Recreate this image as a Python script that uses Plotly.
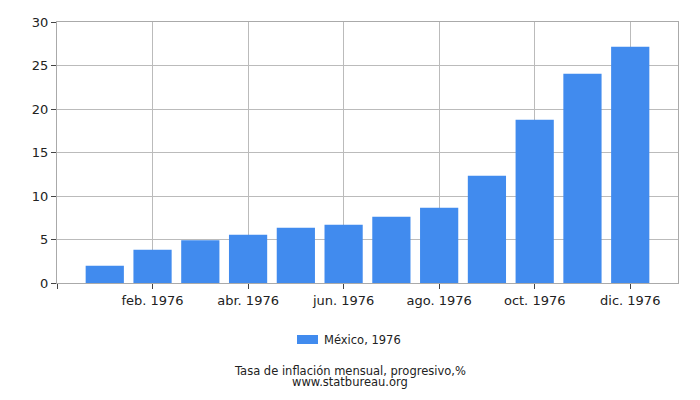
import plotly.graph_objects as go

months = ["ene. 1976", "feb. 1976", "mar. 1976", "abr. 1976", "may. 1976", "jun. 1976",
          "jul. 1976", "ago. 1976", "sep. 1976", "oct. 1976", "nov. 1976", "dic. 1976"]
values = [1.99, 3.83, 4.90, 5.56, 6.36, 6.70, 7.62, 8.66, 12.34, 18.77, 24.06, 27.16]
series_name = "México, 1976"
title_text = "Tasa de inflación mensual, progresivo,%"
source_text = "www.statbureau.org"
yticks = [0, 5, 10, 15, 20, 25, 30]

BAR_COLOR = "#418BEE"
W, H = 700, 400
ML, MR, MT, MB = 57, 22, 22, 117
plot_w = W - ML - MR
plot_h = H - MT - MB


def px_x(p):  # page pixel -> paper x
    return (p - ML) / plot_w


def px_y(p):  # page pixel -> paper y
    return (H - MB - p) / plot_h


idx = list(range(len(months)))
tick_idx = [-1] + [i for i in idx if i % 2 == 1]
tick_text = [""] + [months[i] for i in idx if i % 2 == 1]

fig = go.Figure()
fig.add_trace(go.Bar(
    x=idx, y=values, name=series_name,
    marker=dict(color=BAR_COLOR, line=dict(width=0)),
    width=0.8, showlegend=False,
))

font = "DejaVu Sans, Verdana, sans-serif"
fig.update_layout(
    width=W, height=H,
    margin=dict(l=ML, r=MR, t=MT, b=MB),
    paper_bgcolor="white", plot_bgcolor="white",
    font=dict(family=font, size=13, color="#222"),
    showlegend=False,
    xaxis=dict(
        range=[-1, 12], tickmode="array", tickvals=tick_idx, ticktext=tick_text,
        showgrid=True, gridcolor="#BBBBBB", gridwidth=1,
        showline=True, linecolor="#AAAAAA", linewidth=1, mirror=True,
        ticks="outside", ticklen=5, tickcolor="#444", zeroline=False,
    ),
    yaxis=dict(
        range=[0, 30], tickmode="array", tickvals=yticks,
        showgrid=True, gridcolor="#BBBBBB", gridwidth=1,
        showline=True, linecolor="#AAAAAA", linewidth=1, mirror=True,
        ticks="outside", ticklen=5, tickcolor="#444", zeroline=False,
    ),
    shapes=[
        dict(type="rect", xref="paper", yref="paper",
             x0=px_x(297), x1=px_x(318), y0=px_y(344), y1=px_y(335),
             fillcolor=BAR_COLOR, line=dict(width=0)),
    ],
    annotations=[
        dict(text=series_name, x=px_x(322), xref="paper", xanchor="left",
             y=px_y(340), yref="paper", yanchor="middle", showarrow=False,
             font=dict(size=11.5, color="#222")),
        dict(text=title_text, x=px_x(350), xref="paper", xanchor="center",
             y=px_y(371), yref="paper", yanchor="middle", showarrow=False,
             font=dict(size=11.5, color="#222")),
        dict(text=source_text, x=px_x(350), xref="paper", xanchor="center",
             y=px_y(382), yref="paper", yanchor="middle", showarrow=False,
             font=dict(size=11.5, color="#222")),
    ],
)

fig.write_html("out.html",
               config={"displayModeBar": False},
               post_script="document.body.style.margin='0';document.body.style.overflow='hidden';")
